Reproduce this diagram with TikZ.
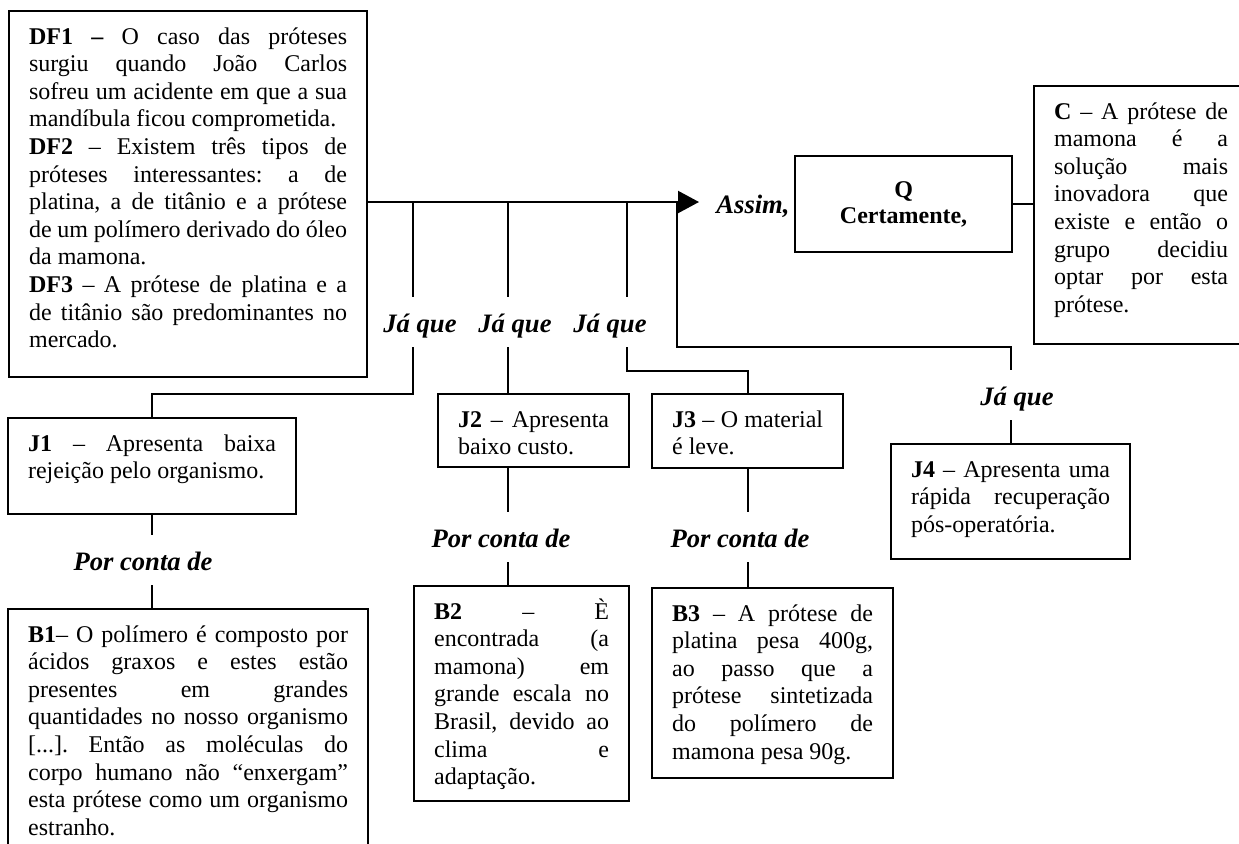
\documentclass[tikz,border=0pt]{standalone}
\usepackage{fontspec}
\setmainfont{Liberation Serif}
\usetikzlibrary{arrows.meta}
\tolerance=10000
\hyphenpenalty=10000
\exhyphenpenalty=10000
\frenchspacing
\begin{document}
\begin{tikzpicture}[x=0.5pt,y=-0.5pt,line width=1.1pt,
    font=\fontsize{12}{13.8}\selectfont,
    txtbox/.style={draw,anchor=north west,align=justify,inner xsep=10pt,inner ysep=7.5pt,text height=9pt},
    link/.style={font=\fontsize{13.3}{15}\selectfont\bfseries\itshape,inner sep=0pt,text height=17pt,text depth=7pt,anchor=base}]
    \useasboundingbox (0,0) rectangle (1239,843);
    % boxes
    \node[txtbox,text width=159pt,text depth=159pt] (df) at (8,10) {\textbf{DF1 –} O caso das próteses\linebreak surgiu quando João Carlos\linebreak sofreu um acidente em que a sua\linebreak mandíbula ficou comprometida.\\ \textbf{DF2} – Existem três tipos de\linebreak próteses interessantes: a de\linebreak platina, a de titânio e a prótese\linebreak de um polímero derivado do óleo\linebreak da mamona.\\ \textbf{DF3} – A prótese de platina e a\linebreak de titânio são predominantes no\linebreak mercado.};
    \node[draw,anchor=north west,minimum width=108.5pt,minimum height=48pt,align=center,font=\fontsize{12}{13}\selectfont\bfseries] (q) at (794,155) {Q\\Certamente,};
    \node[txtbox,text width=87pt,text depth=105pt] (c) at (1033,85) {\textbf{C} – A prótese de\linebreak mamona é a\linebreak solução mais\linebreak inovadora que\linebreak existe e então o\linebreak grupo decidiu\linebreak optar por esta\linebreak prótese.};
    \node[txtbox,text width=124pt,text depth=24pt] (j1) at (7,417) {\textbf{J1} – Apresenta baixa\linebreak rejeição pelo organismo.};
    \node[txtbox,text width=75.5pt,text depth=12.5pt] (j2) at (437,393) {\textbf{J2} – Apresenta\linebreak baixo custo.};
    \node[txtbox,text width=75.5pt,text depth=13pt] (j3) at (651,393) {\textbf{J3} – O material\linebreak é leve.};
    \node[txtbox,text width=99.5pt,text depth=33.5pt] (j4) at (890,443) {\textbf{J4} – Apresenta uma\linebreak rápida recuperação\linebreak pós-operatória.};
    \node[txtbox,text width=160pt,text depth=102pt] (b1) at (7,608) {\textbf{B1}– O polímero é composto por\linebreak ácidos graxos e estes estão\linebreak presentes em grandes\linebreak quantidades no nosso organismo\linebreak{}[...]. Então as moléculas do\linebreak corpo humano não “enxergam”\linebreak esta prótese como um organismo\linebreak estranho.};
    \node[txtbox,text width=87.5pt,text depth=83.5pt] (b2) at (413,585) {\textbf{B2} – È\linebreak encontrada (a\linebreak mamona) em\linebreak grande escala no\linebreak Brasil, devido ao\linebreak clima e\linebreak adaptação.};
    \node[txtbox,text width=100.5pt,text depth=71pt] (b3) at (651,587) {\textbf{B3} – A prótese de\linebreak platina pesa 400g,\linebreak ao passo que a\linebreak prótese sintetizada\linebreak do polímero de\linebreak mamona pesa 90g.};
    % connective words
    \node[link] (assim) at (753,213) {Assim,};
    \node[link] (ja1) at (420,332) {Já que};
    \node[link] (ja2) at (515,332) {Já que};
    \node[link] (ja3) at (610,332) {Já que};
    \node[link] (ja4) at (1017,405) {Já que};
    \node[link] (pc1) at (143,570) {Por conta de};
    \node[link] (pc2) at (501,547) {Por conta de};
    \node[link] (pc3) at (740,547) {Por conta de};
    % main line
    \coordinate (tip) at (699,202);
    \coordinate (m1) at (413,202);
    \coordinate (m2) at (508,202);
    \coordinate (m3) at (627,202);
    \coordinate (m4) at (677,202);
    \draw[-{Triangle[length=10.5pt,width=11pt]}] (df.east |- tip) -- (tip);
    \draw (q.east) -- (q.east -| c.west);
    % justifications
    \draw (m1) -- (m1 |- ja1.north);
    \draw (m1 |- ja1.south) -- ++(0,47) -| (j1.north);
    \draw (m2) -- (m2 |- ja2.north);
    \draw (m2 |- ja2.south) -- (m2 |- j2.north);
    \draw (m3) -- (m3 |- ja3.north);
    \draw (m3 |- ja3.south) -- ++(0,24) -| (j3.north);
    \draw (m4) -- ++(0,145) -| (j4.north |- ja4.north);
    \draw (j4.north |- ja4.south) -- (j4.north);
    % backings
    \draw (j1.south) -- (j1.south |- pc1.north);
    \draw (j1.south |- pc1.south) -- (j1.south |- b1.north);
    \draw (m2 |- j2.south) -- (m2 |- pc2.north);
    \draw (m2 |- pc2.south) -- (m2 |- b2.north);
    \draw (j3.south) -- (j3.south |- pc3.north);
    \draw (j3.south |- pc3.south) -- (j3.south |- b3.north);
\end{tikzpicture}
\end{document}
